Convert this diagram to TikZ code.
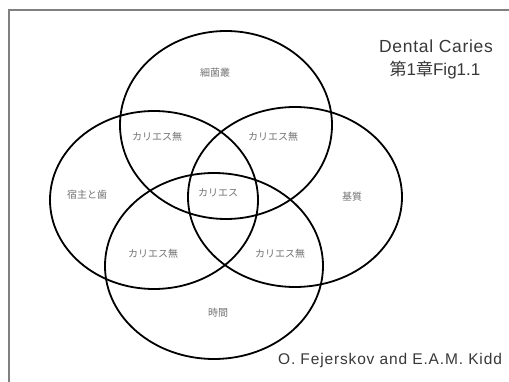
\documentclass[tikz,border=0pt]{standalone}
\usepackage{fontspec}
\setmainfont{Liberation Sans}
\newfontfamily\cjk{Noto Sans CJK JP}
\begin{document}
\begin{tikzpicture}[x=1pt,y=-1pt,
  ring/.style={draw=black,line width=1.8pt},
  lbl/.style={font=\cjk\fontsize{10}{12}\selectfont,text=black!55,inner sep=0pt},
  ttl/.style={text=black!78,inner sep=0pt}]
\useasboundingbox (0,0) rectangle (509,382);
\fill[white] (0,0) rectangle (509,382);
\draw[black!50,line width=1.2pt] (9,395) -- (9,10) -- (520,10);
% ellipses
\draw[ring] (226,125) ellipse [x radius=106,y radius=94];
\draw[ring] (154,200) ellipse [x radius=104,y radius=89];
\draw[ring] (295,197) ellipse [x radius=107,y radius=90];
\draw[ring] (214,266) ellipse [x radius=109,y radius=93];
% labels
\node[lbl] (bac) at (215,73) {細菌叢};
\node[lbl] (host) at (87,195) {宿主と歯};
\node[lbl] (sub) at (352,197) {基質};
\node[lbl] (time) at (218,313) {時間};
\node[lbl] (car) at (218,193) {カリエス};
\node[lbl] (n1) at (157,137) {カリエス無};
\node[lbl] (n2) at (273,137) {カリエス無};
\node[lbl] (n3) at (153,254) {カリエス無};
\node[lbl] (n4) at (280,254) {カリエス無};
% titles
\node[ttl,font=\fontsize{17.5}{20}\selectfont\addfontfeatures{LetterSpace=4}] (t1) at (436,46) {Dental Caries};
\node[ttl,font=\fontsize{17}{20}\selectfont] (t2) at (435,70) {{\cjk 第}1{\cjk 章}Fig1.1};
\node[ttl,font=\fontsize{15.5}{18}\selectfont\addfontfeatures{LetterSpace=5.5}] (auth) at (390,360) {O. Fejerskov and E.A.M. Kidd};
\end{tikzpicture}
\end{document}
